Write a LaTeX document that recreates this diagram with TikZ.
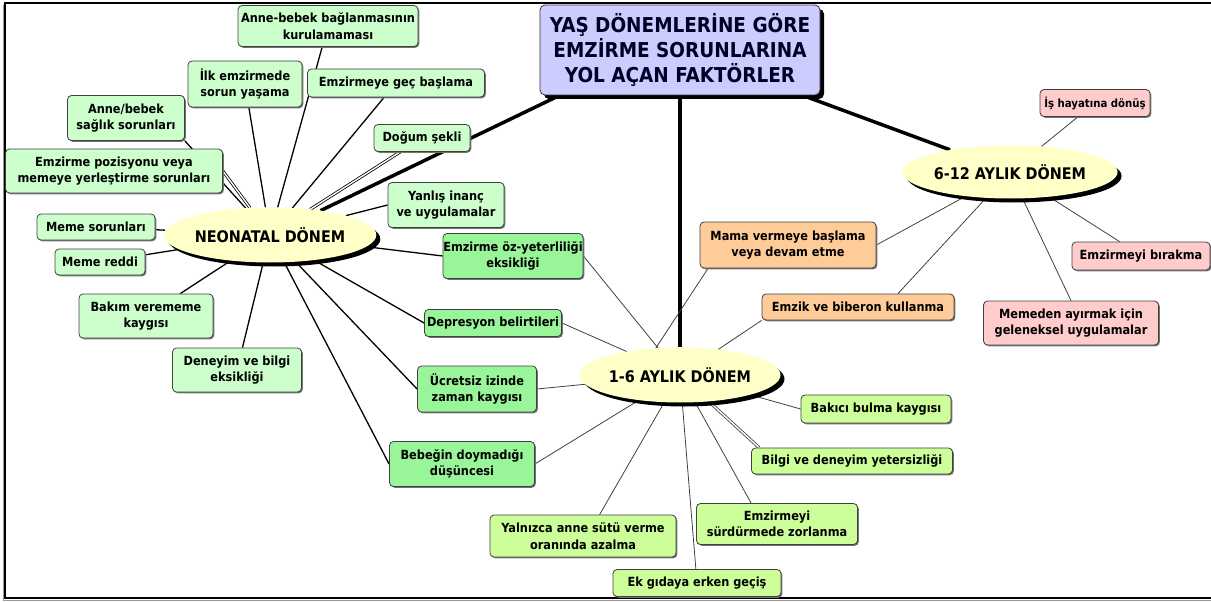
\documentclass[tikz,border=0pt]{standalone}
\usepackage{fontspec}
\setmainfont{DejaVu Sans Condensed}
\usetikzlibrary{shapes.geometric,shadows}
\pgfdeclarelayer{bg}
\pgfsetlayers{bg,main}
\definecolor{lgreen}{HTML}{CCFFCC}
\definecolor{mgreen}{HTML}{99F599}
\definecolor{limeg}{HTML}{CCFF99}
\definecolor{orng}{HTML}{FFCC99}
\definecolor{pnk}{HTML}{FFCCCC}
\definecolor{ylw}{HTML}{FFFFC8}
\definecolor{lav}{HTML}{CCCCFF}
\tikzset{
  box/.style={draw=black!75, line width=0.8pt, rounded corners=4pt, align=center,
    font=\bfseries\fontsize{12.6}{16.5}\selectfont, inner sep=0pt,
    drop shadow={shadow xshift=1.3pt, shadow yshift=-1.3pt, fill=black!55, opacity=1}},
  ell/.style={ellipse, fill=ylw, inner sep=0pt, font=\bfseries\fontsize{16}{18}\selectfont,
    drop shadow={shadow xshift=4pt, shadow yshift=-4pt, fill=black, opacity=1}},
  titlebox/.style={draw=black!80, line width=0.8pt, fill=lav, rounded corners=5pt, align=center,
    font=\bfseries\fontsize{20.5}{25}\selectfont, text=black!85!blue,
    drop shadow={shadow xshift=4pt, shadow yshift=-4pt, fill=black, opacity=1}},
  trunk/.style={line width=3.5pt, black},
  neoline/.style={line width=1.3pt, black},
  thinline/.style={line width=0.8pt, black!75},
  dbl/.style={double=white, double distance=1.4pt, line width=0.8pt}
}
\begin{document}
\begin{tikzpicture}[x=1pt,y=-1pt]
\useasboundingbox (0,0) rectangle (1211,602);
\clip (0,0) rectangle (1211,602);
\draw[black!40, line width=1pt] (3,5) -- (3,600) -- (1215,600);
\draw[line width=2pt] (1215,3) -- (5,3) -- (5,597.5) -- (1215,597.5);

% title and period ellipses
\node[titlebox, minimum width=280pt, minimum height=90pt] (title) at (680,50)
  {YAŞ DÖNEMLERİNE GÖRE\\EMZİRME SORUNLARINA\\YOL AÇAN FAKTÖRLER};
\node[ell, minimum width=155pt, minimum height=55pt] (neo) at (270,235) {NEONATAL DÖNEM};
\node[ell, minimum width=148pt, minimum height=55pt] (a16) at (680,375) {1-6 AYLIK DÖNEM};
\node[ell, minimum width=154pt, minimum height=53pt] (a612) at (1010,172) {6-12 AYLIK DÖNEM};

% neonatal factors
\node[box, fill=lgreen, minimum width=180pt, minimum height=41pt] (ab) at (328,26) {Anne-bebek bağlanmasının\\kurulamaması};
\node[box, fill=lgreen, minimum width=114pt, minimum height=46pt] (ilk) at (245,84) {İlk emzirmede\\sorun yaşama};
\node[box, fill=lgreen, minimum width=177pt, minimum height=28pt] (gec) at (396,83) {Emzirmeye geç başlama};
\node[box, fill=lgreen, minimum width=117pt, minimum height=45pt] (sag) at (126,118) {Anne/bebek\\sağlık sorunları};
\node[box, fill=lgreen, minimum width=96pt, minimum height=27pt] (dog) at (422,138) {Doğum şekli};
\node[box, fill=lgreen, minimum width=217pt, minimum height=44pt] (poz) at (114,171) {Emzirme pozisyonu veya\\memeye yerleştirme sorunları};
\node[box, fill=lgreen, minimum width=116pt, minimum height=45pt] (yan) at (446,205) {Yanlış inanç\\ve uygulamalar};
\node[box, fill=lgreen, minimum width=118pt, minimum height=26pt] (mem) at (96,227) {Meme sorunları};
\node[box, fill=lgreen, minimum width=90pt, minimum height=26pt] (red) at (100,262) {Meme reddi};
\node[box, fill=lgreen, minimum width=134pt, minimum height=44pt] (bak) at (146,316) {Bakım verememe\\kaygısı};
\node[box, fill=lgreen, minimum width=129pt, minimum height=44pt] (den) at (237,370) {Deneyim ve bilgi\\eksikliği};

% shared neonatal / 1-6
\node[box, fill=mgreen, minimum width=140pt, minimum height=45pt] (oz) at (513,256) {Emzirme öz-yeterliliği\\eksikliği};
\node[box, fill=mgreen, minimum width=137pt, minimum height=27pt] (dep) at (493,323) {Depresyon belirtileri};
\node[box, fill=mgreen, minimum width=119pt, minimum height=46pt] (ucr) at (477,389) {Ücretsiz izinde\\zaman kaygısı};
\node[box, fill=mgreen, minimum width=145pt, minimum height=45pt] (doy) at (462,464) {Bebeğin doymadığı\\düşüncesi};

% shared 1-6 / 6-12
\node[box, fill=orng, minimum width=176pt, minimum height=46pt] (mama) at (788,245) {Mama vermeye başlama\\veya devam etme};
\node[box, fill=orng, minimum width=192pt, minimum height=26pt] (emz) at (858,307) {Emzik ve biberon kullanma};

% 6-12
\node[box, fill=pnk, minimum width=110pt, minimum height=27pt, font=\bfseries\fontsize{11.3}{15}\selectfont] (ish) at (1095,103) {İş hayatına dönüş};
\node[box, fill=pnk, minimum width=138pt, minimum height=28pt] (bir) at (1141,256) {Emzirmeyi bırakma};
\node[box, fill=pnk, minimum width=175pt, minimum height=44pt] (ayr) at (1071,323) {Memeden ayırmak için\\geleneksel uygulamalar};

% 1-6
\node[box, fill=limeg, minimum width=150pt, minimum height=28pt] (bkc) at (876,409) {Bakıcı bulma kaygısı};
\node[box, fill=limeg, minimum width=201pt, minimum height=26pt] (bil) at (852,461) {Bilgi ve deneyim yetersizliği};
\node[box, fill=limeg, minimum width=161pt, minimum height=41pt] (sur) at (777,524) {Emzirmeyi\\sürdürmede zorlanma};
\node[box, fill=limeg, minimum width=186pt, minimum height=42pt] (yal) at (583,536) {Yalnızca anne sütü verme\\oranında azalma};
\node[box, fill=limeg, minimum width=168pt, minimum height=27pt] (ek) at (697,583) {Ek gıdaya erken geçiş};

\begin{pgfonlayer}{bg}
  \draw[trunk] ([xshift=20pt]title.south west) -- (neo);
  \draw[trunk] (title) -- (a16);
  \draw[trunk] (title) -- (a612);

  \draw[neoline] (ab) -- (neo);
  \draw[neoline] (ilk) -- (neo);
  \draw[neoline] (gec) -- (neo);
  \draw[neoline] (sag.south east) -- (neo);
  \draw[neoline, dbl] (dog) -- (neo);
  \draw[neoline, dbl] (poz.east) -- (neo);
  \draw[neoline] (yan.west) -- (neo);
  \draw[neoline] (mem) -- (neo);
  \draw[neoline] (red) -- (neo);
  \draw[neoline] (bak) -- (neo);
  \draw[neoline] (den) -- (neo);
  \draw[neoline] (oz.west) -- (neo);
  \draw[neoline] (dep.west) -- (neo);
  \draw[neoline] (ucr.west) -- (neo);
  \draw[neoline] (doy.west) -- (neo);

  \draw[thinline] (oz.east) -- (a16);
  \draw[thinline] (dep.east) -- (a16);
  \draw[thinline] (ucr.east) -- (a16);
  \draw[thinline] (doy.east) -- (a16);
  \draw[thinline] ([xshift=-80pt]mama.south) -- (a16.132);
  \draw[thinline] (emz.south west) -- (a16);
  \draw[thinline] (bkc.west) -- (a16);
  \draw[thinline, dbl] ([xshift=8pt]bil.north west) -- (a16);
  \draw[thinline] ([xshift=55pt]sur.north west) -- (a16);
  \draw[thinline] (ek) -- (a16);
  \draw[thinline] ([xshift=110pt]yal.north west) -- (a16);

  \draw[thinline] (ish) -- (a612);
  \draw[thinline] (mama.east) -- (a612);
  \draw[thinline] ([xshift=40pt]emz.north) -- (a612);
  \draw[thinline] ([xshift=48pt]bir.north west) -- (a612);
  \draw[thinline] (ayr.north) -- (a612);
\end{pgfonlayer}
\end{tikzpicture}
\end{document}
